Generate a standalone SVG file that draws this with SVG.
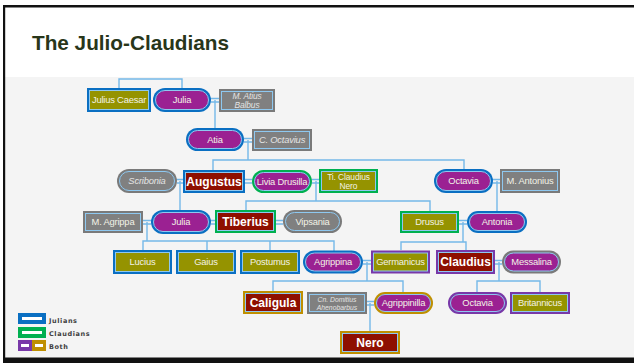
<svg xmlns="http://www.w3.org/2000/svg" width="634" height="363" viewBox="0 0 634 363">
<style>
.conn{stroke:#74b8e8;stroke-width:1.4;fill:none}
.in{stroke:#8ec8f0;stroke-width:1}
.olive{fill:#959300}
.purp{fill:#9b2192}
.gray{fill:#808080}
.red{fill:#8e0f00}
.bJ{fill:#0a6fc2}
.bC{fill:#00b050}
.bB{fill:#7838a8}
.bG{fill:#bf8f00}
.bX{fill:#7a7a7a}
text{font-family:"Liberation Sans",Arial,sans-serif;text-anchor:middle}
.t{font-size:9.4px;fill:#f2f2e6;letter-spacing:-0.2px}
.ti{font-size:9.4px;fill:#e4e4e4;font-style:italic;letter-spacing:-0.2px}
.t2{font-size:8.4px;fill:#f2f2e6;letter-spacing:-0.1px}
.ti2{font-size:8.4px;fill:#e4e4e4;font-style:italic;letter-spacing:-0.1px}
.ts{font-size:6.8px;fill:#e4e4e4;font-style:italic}
.tb{font-size:12px;fill:#ffffff;font-weight:bold}
.lg{font-family:"DejaVu Sans",sans-serif;font-size:6.5px;fill:#404040;text-anchor:start;font-weight:bold;letter-spacing:0.6px}
</style>
<rect x="0" y="0" width="634" height="363" fill="#ffffff"/>
<rect x="5" y="77" width="629" height="281" fill="#f4f4f4"/>
<rect x="3" y="5" width="631" height="2.5" fill="#111"/>
<rect x="3" y="5" width="2.2" height="358" fill="#111"/>
<rect x="3" y="357.5" width="631" height="5.5" fill="#111"/>
<text x="32" y="50" font-family="'Open Sans', 'Liberation Sans', sans-serif" font-weight="600" font-size="21" fill="#28361a" style="text-anchor:start" textLength="197" lengthAdjust="spacingAndGlyphs">The Julio-Claudians</text>

<g id="connectors" class="conn">
<path d="M119 88 V79 H182 V88"/>
<path d="M211 98.5 H219 M211 102 H219 M215 100 V128"/>
<path d="M244 138.5 H252 M244 142 H252 M248 140 V160 M213 170 V160 H464 V169"/>
<path d="M177 179.5 H183 M177 183 H183"/>
<path d="M245 179.5 H252 M245 183 H252"/>
<path d="M312 179.5 H319 M312 183 H319"/>
<path d="M493 179.5 H500 M493 183 H500"/>
<path d="M180 181 V210"/>
<path d="M316 181 V201 M246 210 V201 H430 V211"/>
<path d="M497 181 V211"/>
<path d="M143 220.5 H151 M143 224 H151"/>
<path d="M211 220.5 H215 M211 224 H215"/>
<path d="M276 220.5 H283 M276 224 H283"/>
<path d="M459 220.5 H467 M459 224 H467"/>
<path d="M147 222 V241 M143 250 V241 H334 V251 M207 241 V250 M270 241 V250"/>
<path d="M463 222 V242 M401 250 V242 H466 V250"/>
<path d="M363 260.5 H371 M363 264 H371"/>
<path d="M495 260.5 H502 M495 264 H502"/>
<path d="M367 262 V281 M273 291 V281 H403 V292"/>
<path d="M499 262 V281 M477 292 V281 H540 V292"/>
<path d="M367 301.5 H374 M367 305 H374 M370 303 V331"/>
</g>

<g id="julius"><rect class="bJ" x="87" y="88" width="64" height="24"/><rect class="olive in" x="89.5" y="90.5" width="59" height="19"/><text class="t" x="119" y="103.2">Julius Caesar</text></g>
<g id="julia1"><rect class="bJ" x="153" y="88" width="58" height="24" rx="12"/><rect class="purp in" x="155.5" y="90.5" width="53" height="19" rx="9.5"/><text class="t" x="182" y="103.2">Julia</text></g>
<g id="balbus"><rect class="bX" x="219" y="89" width="56" height="23"/><rect class="gray in" x="221.5" y="91.5" width="51" height="18"/><text class="ti2" x="247" y="99">M. Atius</text><text class="ti2" x="247" y="108.3">Balbus</text></g>
<g id="atia"><rect class="bJ" x="186" y="128" width="58" height="23" rx="11.5"/><rect class="purp in" x="188.5" y="130.5" width="53" height="18" rx="9"/><text class="t" x="215" y="142.7">Atia</text></g>
<g id="octavius"><rect class="bX" x="252" y="129" width="60" height="22"/><rect class="gray in" x="254.5" y="131.5" width="55" height="17"/><text class="ti" x="282" y="143.2">C. Octavius</text></g>
<g id="scribonia"><rect class="bX" x="117" y="169" width="60" height="24" rx="12"/><rect class="gray in" x="119.5" y="171.5" width="55" height="19" rx="9.5"/><text class="ti" x="147" y="184.2">Scribonia</text></g>
<g id="augustus"><rect class="bJ" x="183" y="170" width="62" height="23"/><rect class="red in" x="185.5" y="172.5" width="57" height="18"/><text class="tb" x="214" y="185.8">Augustus</text></g>
<g id="livia"><rect class="bC" x="252" y="170" width="60" height="23" rx="11.5"/><rect class="purp in" x="254.5" y="172.5" width="55" height="18" rx="9"/><text class="t" x="282" y="184.7">Livia Drusilla</text></g>
<g id="tcnero"><rect class="bC" x="319" y="169" width="59" height="24"/><rect class="olive in" x="321.5" y="171.5" width="54" height="19"/><text class="t2" x="348.5" y="179.6">Ti. Claudius</text><text class="t2" x="348.5" y="188.8">Nero</text></g>
<g id="octavia1"><rect class="bJ" x="434" y="169" width="59" height="24" rx="12"/><rect class="purp in" x="436.5" y="171.5" width="54" height="19" rx="9.5"/><text class="t" x="463.5" y="184.2">Octavia</text></g>
<g id="antonius"><rect class="bX" x="500" y="169" width="60" height="24"/><rect class="gray in" x="502.5" y="171.5" width="55" height="19"/><text class="t" x="530" y="184.2">M. Antonius</text></g>
<g id="agrippa"><rect class="bX" x="83" y="211" width="60" height="22"/><rect class="gray in" x="85.5" y="213.5" width="55" height="17"/><text class="t" x="113" y="225.2">M. Agrippa</text></g>
<g id="julia2"><rect class="bJ" x="151" y="210" width="60" height="24" rx="12"/><rect class="purp in" x="153.5" y="212.5" width="55" height="19" rx="9.5"/><text class="t" x="181" y="225.2">Julia</text></g>
<g id="tiberius"><rect class="bC" x="215" y="210" width="61" height="23"/><rect class="red in" x="217.5" y="212.5" width="56" height="18"/><text class="tb" x="245.5" y="225.8">Tiberius</text></g>
<g id="vipsania"><rect class="bX" x="283" y="210" width="59" height="23" rx="11.5"/><rect class="gray in" x="285.5" y="212.5" width="54" height="18" rx="9"/><text class="t" x="312.5" y="224.7">Vipsania</text></g>
<g id="drusus"><rect class="bC" x="400" y="211" width="59" height="22"/><rect class="olive in" x="402.5" y="213.5" width="54" height="17"/><text class="t" x="429.5" y="225.2">Drusus</text></g>
<g id="antonia"><rect class="bJ" x="467" y="211" width="60" height="22" rx="11"/><rect class="purp in" x="469.5" y="213.5" width="55" height="17" rx="8.5"/><text class="t" x="497" y="225.2">Antonia</text></g>
<g id="lucius"><rect class="bJ" x="113" y="250" width="59" height="24"/><rect class="olive in" x="115.5" y="252.5" width="54" height="19"/><text class="t" x="142.5" y="265.2">Lucius</text></g>
<g id="gaius"><rect class="bJ" x="176" y="250" width="60" height="24"/><rect class="olive in" x="178.5" y="252.5" width="55" height="19"/><text class="t" x="206" y="265.2">Gaius</text></g>
<g id="postumus"><rect class="bJ" x="240" y="250" width="60" height="24"/><rect class="olive in" x="242.5" y="252.5" width="55" height="19"/><text class="t" x="270" y="265.2">Postumus</text></g>
<g id="agrippina"><rect class="bJ" x="303" y="250.5" width="60" height="23" rx="11.5"/><rect class="purp in" x="305.5" y="253" width="55" height="18" rx="9"/><text class="t" x="333" y="265.2">Agrippina</text></g>
<g id="germanicus"><rect class="bB" x="371" y="250.5" width="59" height="23"/><rect class="olive in" x="373.5" y="253" width="54" height="18"/><text class="t" x="400.5" y="265.2">Germanicus</text></g>
<g id="claudius"><rect class="bB" x="436" y="250" width="59" height="24"/><rect class="red in" x="438.5" y="252.5" width="54" height="19"/><text class="tb" x="465.5" y="266.3">Claudius</text></g>
<g id="messalina"><rect class="bX" x="502" y="250.5" width="59" height="23" rx="11.5"/><rect class="purp in" x="504.5" y="253" width="54" height="18" rx="9"/><text class="t" x="531.5" y="265.2">Messalina</text></g>
<g id="caligula"><rect class="bG" x="243" y="291" width="60" height="23"/><rect class="red in" x="245.5" y="293.5" width="55" height="18"/><text class="tb" x="273" y="306.8">Caligula</text></g>
<g id="domitius"><rect class="bX" x="307" y="292" width="60" height="22"/><rect class="gray in" x="309.5" y="294.5" width="55" height="17"/><text class="ts" x="337" y="301.6">Cn. Domitius</text><text class="ts" x="337" y="309.6">Ahenobarbus</text></g>
<g id="agrippinilla"><rect class="bG" x="374" y="292" width="59" height="22" rx="11"/><rect class="purp in" x="376.5" y="294.5" width="54" height="17" rx="8.5"/><text class="t" x="403.5" y="306.2">Agrippinilla</text></g>
<g id="octavia2"><rect class="bB" x="448" y="292" width="59" height="22" rx="11"/><rect class="purp in" x="450.5" y="294.5" width="54" height="17" rx="8.5"/><text class="t" x="477.5" y="306.2">Octavia</text></g>
<g id="britannicus"><rect class="bB" x="510" y="292" width="60" height="22"/><rect class="olive in" x="512.5" y="294.5" width="55" height="17"/><text class="t" x="540" y="306.2">Britannicus</text></g>
<g id="nero"><rect class="bG" x="340" y="331" width="60" height="23"/><rect class="red in" x="342.5" y="333.5" width="55" height="18"/><text class="tb" x="370" y="346.8">Nero</text></g>

<g id="legend">
<rect class="bJ" x="18" y="313" width="28" height="11"/><rect x="22" y="317" width="20" height="3" fill="#fff"/>
<rect class="bC" x="18" y="327" width="28" height="11"/><rect x="22" y="331" width="20" height="3" fill="#fff"/>
<rect class="bB" x="18" y="340" width="14" height="11"/><rect class="bG" x="32" y="340" width="14" height="11"/>
<rect x="21" y="344" width="8" height="3" fill="#fff"/><rect x="35" y="344" width="8" height="3" fill="#fff"/>
<text class="lg" x="49" y="322.5">Julians</text>
<text class="lg" x="49" y="335.5">Claudians</text>
<text class="lg" x="49" y="349">Both</text>
</g>
</svg>
